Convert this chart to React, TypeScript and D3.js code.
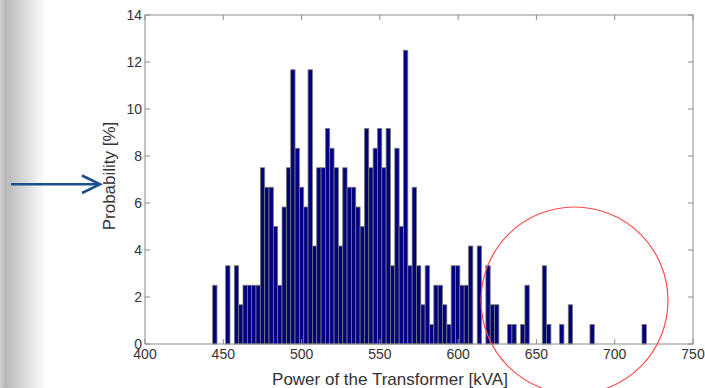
import { useRef, useEffect } from 'react';
import * as d3 from 'd3';

// histogram bins (kVA) and probability per bin [%]
const binStart = 443.2;
const binWidth = 2.77;
const probability = [
  2.5, 0, 0, 3.33, 0, 3.33, 1.67, 2.5, 2.5, 2.5,
  2.5, 7.5, 6.67, 6.67, 5, 2.5, 5.83, 7.5, 11.67, 8.33,
  6.67, 5.83, 11.67, 4.17, 7.5, 7.5, 9.17, 8.33, 7.5, 4.17,
  7.5, 6.67, 6.67, 5.83, 5, 9.17, 7.5, 8.33, 9.17, 7.5,
  9.17, 3.33, 8.33, 5, 12.5, 3.33, 6.67, 3.33, 1.67, 3.33,
  0.83, 2.5, 2.5, 1.67, 0.83, 3.33, 3.33, 2.5, 2.5, 4.17,
  0, 4.17, 0, 3.33, 1.67, 1.67, 0, 0, 0.83, 0.83,
  0, 0.83, 2.5, 0, 0, 0, 3.33, 0.83, 0, 0,
  0.83, 0, 1.67, 0, 0, 0, 0, 0.83, 0, 0,
  0, 0, 0, 0, 0, 0, 0, 0, 0, 0.83,
];
const xTicks = [400, 450, 500, 550, 600, 650, 700, 750];
const yTicks = [0, 2, 4, 6, 8, 10, 12, 14];

const W = 705;
const H = 388;

export default function App() {
  const svgRef = useRef<SVGSVGElement>(null);

  useEffect(() => {
    if (!svgRef.current) return;
    const svg = d3.select(svgRef.current);
    svg.selectAll('*').remove();

    const plot = { left: 145, right: 693, top: 15, bottom: 344 };

    const x = d3.scaleLinear().domain([400, 750]).range([plot.left, plot.right]);
    const y = d3.scaleLinear().domain([0, 14]).range([plot.bottom, plot.top]);

    // slide shadow on the left edge
    const defs = svg.append('defs');
    const grad = defs.append('linearGradient').attr('id', 'edge').attr('x1', 0).attr('x2', 1);
    grad.append('stop').attr('offset', 0).attr('stop-color', '#d2d2d2');
    grad.append('stop').attr('offset', 0.12).attr('stop-color', '#b8b8b8');
    grad.append('stop').attr('offset', 1).attr('stop-color', '#ffffff');

    svg.append('rect').attr('width', W).attr('height', H).attr('fill', '#fff');
    svg.append('rect').attr('width', 46).attr('height', H).attr('fill', 'url(#edge)');

    // bars
    const bins = probability.map((p, i) => ({ x0: binStart + i * binWidth, x1: binStart + (i + 1) * binWidth, p }));
    svg.append('g')
      .selectAll('rect')
      .data(bins.filter(d => d.p > 0))
      .join('rect')
      .attr('x', d => x(d.x0))
      .attr('y', d => y(d.p))
      .attr('width', d => x(d.x1) - x(d.x0))
      .attr('height', d => y(0) - y(d.p))
      .attr('fill', '#000080')
      .attr('stroke', '#7a7a7a')
      .attr('stroke-width', 0.8);

    // axes box
    const axisColor = '#8c8c8c';
    svg.append('rect')
      .attr('x', plot.left)
      .attr('y', plot.top)
      .attr('width', plot.right - plot.left)
      .attr('height', plot.bottom - plot.top)
      .attr('fill', 'none')
      .attr('stroke', axisColor)
      .attr('stroke-width', 1);

    const tickLen = 5;
    const ticks = svg.append('g').attr('stroke', axisColor).attr('stroke-width', 1);
    xTicks.forEach(t => {
      ticks.append('line').attr('x1', x(t)).attr('x2', x(t)).attr('y1', plot.bottom).attr('y2', plot.bottom - tickLen);
      ticks.append('line').attr('x1', x(t)).attr('x2', x(t)).attr('y1', plot.top).attr('y2', plot.top + tickLen);
    });
    yTicks.forEach(t => {
      ticks.append('line').attr('x1', plot.left).attr('x2', plot.left + tickLen).attr('y1', y(t)).attr('y2', y(t));
      ticks.append('line').attr('x1', plot.right).attr('x2', plot.right - tickLen).attr('y1', y(t)).attr('y2', y(t));
    });

    const font = 'Liberation Sans, Arial, sans-serif';
    const labels = svg.append('g').attr('font-family', font).attr('font-size', 14).attr('fill', '#333');
    xTicks.forEach(t => {
      labels.append('text').attr('x', x(t)).attr('y', 359).attr('text-anchor', 'middle').text(t);
    });
    yTicks.forEach(t => {
      labels.append('text').attr('x', plot.left - 3).attr('y', y(t) + 5).attr('text-anchor', 'end').text(t);
    });

    svg.append('text')
      .attr('x', 390)
      .attr('y', 385)
      .attr('text-anchor', 'middle')
      .attr('font-family', font)
      .attr('font-size', 17)
      .attr('fill', '#333')
      .text('Power of the Transformer [kVA]');

    svg.append('text')
      .attr('transform', 'translate(115,176) rotate(-90)')
      .attr('text-anchor', 'middle')
      .attr('font-family', font)
      .attr('font-size', 17)
      .attr('fill', '#333')
      .text('Probability [%]');

    // annotations
    svg.append('circle')
      .attr('cx', 574.5)
      .attr('cy', 300.5)
      .attr('r', 93.5)
      .attr('fill', 'none')
      .attr('stroke', '#ff4a4a')
      .attr('stroke-width', 1.2);

    const arrow = svg.append('g').attr('stroke', '#1b4f8e').attr('stroke-width', 2.6).attr('fill', 'none');
    arrow.append('line').attr('x1', 11).attr('x2', 99).attr('y1', 184.3).attr('y2', 184.3);
    arrow.append('path').attr('d', 'M82,175.5 L100,184.3 L82,193');
  }, []);

  return (
    <svg
      ref={svgRef}
      width={W}
      height={H}
      style={{ position: 'absolute', left: 0, top: 0, display: 'block' }}
    />
  );
}
